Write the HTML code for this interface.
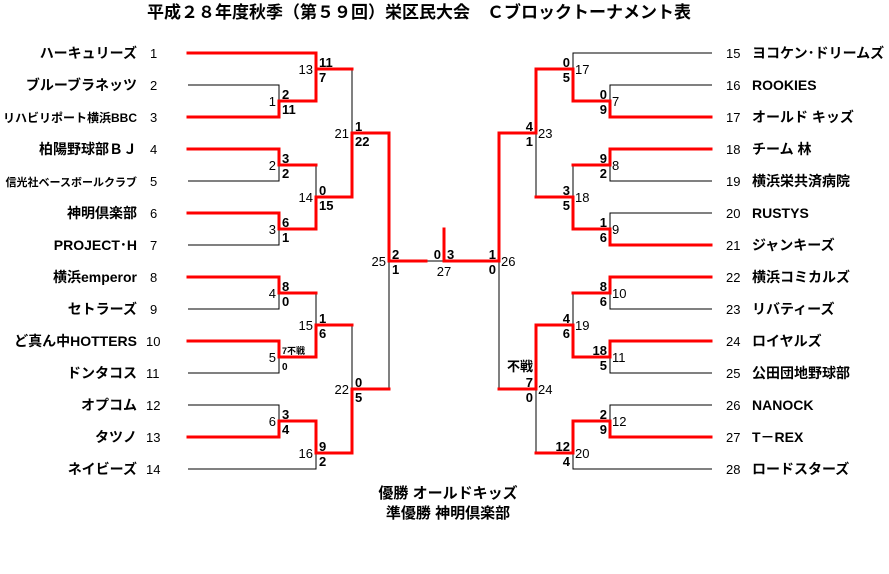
<!DOCTYPE html>
<html><head><meta charset="utf-8"><style>
html,body{margin:0;padding:0;background:#fff;}
svg{display:block;font-family:"Liberation Sans","Noto Sans CJK JP",sans-serif;}
.n{font-size:14px;font-weight:bold;fill:#000;}
.num{font-size:13px;fill:#000;}
.s{font-size:13px;font-weight:bold;fill:#000;}
.l{font-size:13px;fill:#000;}
</style></head><body>
<svg width="889" height="574" viewBox="0 0 889 574" xmlns="http://www.w3.org/2000/svg">
<text x="419" y="18" text-anchor="middle" style="font-size:17px;font-weight:bold">平成２８年度秋季（第５９回）栄区民大会　Ｃブロックトーナメント表</text>

<g stroke="#000" stroke-width="1" fill="none">
<path d="M188 85H279V117M279 101V85"/>
<path d="M188 181H279V149"/>
<path d="M188 245H279V213"/>
<path d="M316 53V101"/><path d="M316 165V229"/>
<path d="M352 69V197"/>
<path d="M188 309H279V277"/>
<path d="M188 373H279V341"/>
<path d="M188 405H279V437"/>
<path d="M188 469H316V421"/>
<path d="M316 293V357"/>
<path d="M352 325V453"/>
<path d="M389 261V389"/>
<path d="M426 261H444"/>
<path d="M712 53H573V69"/>
<path d="M712 85H610V101"/>
<path d="M536 133V197"/>
<path d="M712 181H610V165"/>
<path d="M573 165V197"/>
<path d="M712 213H610V229"/>
<path d="M499 261V389"/>
<path d="M573 293V325"/>
<path d="M712 309H610V293"/>
<path d="M712 373H610V357"/>
<path d="M536 389V453"/>
<path d="M712 405H610V421"/>
<path d="M712 469H573V453"/>
</g>
<g stroke="#f00" stroke-width="3" fill="none" stroke-linejoin="miter" stroke-linecap="square">
<path d="M188 53H316V69H352"/>
<path d="M188 117H279V101H316V69"/>
<path d="M188 149H279V165H316"/>
<path d="M188 213H279V229H316V197H352V133H389V261H426"/>
<path d="M188 277H279V293H316"/>
<path d="M188 341H279V357H316V325H352"/>
<path d="M188 437H279V421H316V453H352V389H389"/>
<path d="M444 229V261H499V133H536V69H573V101H610V117H711"/>
<path d="M536 197H573V229H610V245H711"/>
<path d="M573 165H610V149H711"/>
<path d="M499 389H536V325H573V357H610V341H711"/>
<path d="M573 293H610V277H711"/>
<path d="M536 453H573V421H610V437H711"/>
</g>

<g class="n" text-anchor="end">
<text x="137" y="58">ハーキュリーズ</text>
<text x="137" y="90">ブルーブラネッツ</text>
<text x="137" y="122" style="font-size:12px">リハビリポート横浜BBC</text>
<text x="137" y="154">柏陽野球部ＢＪ</text>
<text x="137" y="186" style="font-size:11px">信光社ベースボールクラブ</text>
<text x="137" y="218">神明倶楽部</text>
<text x="137" y="250">PROJECT･H</text>
<text x="137" y="282">横浜emperor</text>
<text x="137" y="314">セトラーズ</text>
<text x="137" y="346">ど真ん中HOTTERS</text>
<text x="137" y="378">ドンタコス</text>
<text x="137" y="410">オプコム</text>
<text x="137" y="442">タツノ</text>
<text x="137" y="474">ネイビーズ</text>
</g>
<g class="num">
<text x="150" y="58">1</text><text x="150" y="90">2</text><text x="150" y="122">3</text><text x="150" y="154">4</text><text x="150" y="186">5</text><text x="150" y="218">6</text><text x="150" y="250">7</text><text x="150" y="282">8</text><text x="150" y="314">9</text><text x="146" y="346">10</text><text x="146" y="378">11</text><text x="146" y="410">12</text><text x="146" y="442">13</text><text x="146" y="474">14</text>
</g>
<g class="num">
<text x="726" y="58">15</text><text x="726" y="90">16</text><text x="726" y="122">17</text><text x="726" y="154">18</text><text x="726" y="186">19</text><text x="726" y="218">20</text><text x="726" y="250">21</text><text x="726" y="282">22</text><text x="726" y="314">23</text><text x="726" y="346">24</text><text x="726" y="378">25</text><text x="726" y="410">26</text><text x="726" y="442">27</text><text x="726" y="474">28</text>
</g>
<g class="n">
<text x="752" y="58">ヨコケン･ドリームズ</text>
<text x="752" y="90">ROOKIES</text>
<text x="752" y="122">オールド キッズ</text>
<text x="752" y="154">チーム 林</text>
<text x="752" y="186">横浜栄共済病院</text>
<text x="752" y="218">RUSTYS</text>
<text x="752" y="250">ジャンキーズ</text>
<text x="752" y="282">横浜コミカルズ</text>
<text x="752" y="314">リバティーズ</text>
<text x="752" y="346">ロイヤルズ</text>
<text x="752" y="378">公田団地野球部</text>
<text x="752" y="410">NANOCK</text>
<text x="752" y="442">T－REX</text>
<text x="752" y="474">ロードスターズ</text>
</g>

<g class="s">
<text x="282" y="99">2</text><text x="282" y="114">11</text>
<text x="319" y="67">11</text><text x="319" y="82">7</text>
<text x="282" y="163">3</text><text x="282" y="178">2</text>
<text x="282" y="227">6</text><text x="282" y="242">1</text>
<text x="319" y="195">0</text><text x="319" y="210">15</text>
<text x="355" y="131">1</text><text x="355" y="146">22</text>
<text x="282" y="291">8</text><text x="282" y="306">0</text>
<text x="282" y="354" style="font-size:9px">7不戦</text><text x="282" y="370" style="font-size:10px">0</text>
<text x="319" y="323">1</text><text x="319" y="338">6</text>
<text x="282" y="419">3</text><text x="282" y="434">4</text>
<text x="319" y="451">9</text><text x="319" y="466">2</text>
<text x="355" y="387">0</text><text x="355" y="402">5</text>
<text x="392" y="259">2</text><text x="392" y="274">1</text>
<text x="441" y="259" text-anchor="end">0</text><text x="447" y="259">3</text>
</g>
<g class="l" text-anchor="end">
<text x="276" y="106">1</text><text x="313" y="74">13</text>
<text x="276" y="170">2</text><text x="276" y="234">3</text><text x="313" y="202">14</text>
<text x="349" y="138">21</text>
<text x="276" y="298">4</text><text x="276" y="362">5</text><text x="313" y="330">15</text>
<text x="276" y="426">6</text><text x="313" y="458">16</text><text x="349" y="394">22</text>
<text x="386" y="266">25</text>
</g>
<text class="l" x="444" y="276" text-anchor="middle">27</text>

<g class="s" text-anchor="end">
<text x="496" y="259">1</text><text x="496" y="274">0</text>
<text x="533" y="131">4</text><text x="533" y="146">1</text>
<text x="570" y="67">0</text><text x="570" y="82">5</text>
<text x="607" y="99">0</text><text x="607" y="114">9</text>
<text x="570" y="195">3</text><text x="570" y="210">5</text>
<text x="607" y="163">9</text><text x="607" y="178">2</text>
<text x="607" y="227">1</text><text x="607" y="242">6</text>
<text x="570" y="323">4</text><text x="570" y="338">6</text>
<text x="607" y="291">8</text><text x="607" y="306">6</text>
<text x="607" y="355">18</text><text x="607" y="370">5</text>
<text x="533" y="371">不戦</text>
<text x="533" y="387">7</text><text x="533" y="402">0</text>
<text x="570" y="451">12</text><text x="570" y="466">4</text>
<text x="607" y="419">2</text><text x="607" y="434">9</text>
</g>
<g class="l">
<text x="501" y="266">26</text><text x="538" y="138">23</text>
<text x="575" y="74">17</text><text x="612" y="106">7</text>
<text x="575" y="202">18</text><text x="612" y="170">8</text><text x="612" y="234">9</text>
<text x="575" y="330">19</text><text x="612" y="298">10</text><text x="612" y="362">11</text>
<text x="538" y="394">24</text><text x="575" y="458">20</text><text x="612" y="426">12</text>
</g>

<text x="448" y="498" text-anchor="middle" class="n" style="font-size:15px">優勝 オールドキッズ</text>
<text x="448" y="518" text-anchor="middle" class="n" style="font-size:15px">準優勝 神明倶楽部</text>
</svg>
</body></html>
